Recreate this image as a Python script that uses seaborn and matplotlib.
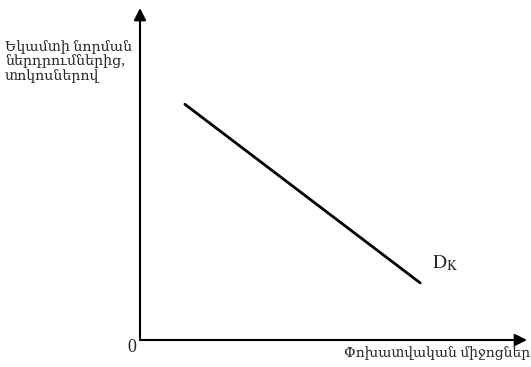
import pandas as pd
import seaborn as sns
import matplotlib.pyplot as plt

# demand curve for loanable funds (schematic)
funds = [1.16, 7.24]
rate = [7.1, 1.72]
curve_label = 'D'
y_title = 'Եկամտի նորման\nներդրումներից,\nտոկոսներով'
x_title = 'Փոխատվական միջոցներ'

df = pd.DataFrame({'funds': funds, 'rate': rate})

sns.set_style('white')
plt.rcParams['font.family'] = ['Liberation Serif', 'DejaVu Serif']
plt.rcParams['mathtext.fontset'] = 'stix'

fig = plt.figure(figsize=(5.31, 3.67), dpi=100)
ax = fig.add_axes([140 / 531, 27 / 367, 387 / 531, 332 / 367])
ax.set_xlim(0, 10)
ax.set_ylim(0, 10)

sns.lineplot(data=df, x='funds', y='rate', color='black', linewidth=2, ax=ax)

for s in ax.spines.values():
    s.set_visible(False)
ax.set_xticks([])
ax.set_yticks([])
ax.set_xlabel('')
ax.set_ylabel('')

# axes with arrow heads
ax.annotate('', xy=(1.0, 0), xytext=(0, 0), xycoords='axes fraction',
            arrowprops=dict(arrowstyle='-|>', color='black', lw=1.5,
                            mutation_scale=18, shrinkA=0, shrinkB=0))
ax.annotate('', xy=(0, 1.0), xytext=(0, 0), xycoords='axes fraction',
            arrowprops=dict(arrowstyle='-|>', color='black', lw=1.5,
                            mutation_scale=18, shrinkA=0, shrinkB=0))

ax.text(funds[1] + 0.3, rate[1] + 0.3, r'$\mathrm{D_K}$', fontsize=14,
        va='bottom', ha='left')
fig.text(132 / 531, 1 - 347 / 367, '0', fontsize=13, ha='center', va='center')
fig.text(5 / 531, 1 - 40 / 367, y_title, fontsize=10.2, ha='left', va='top',
         linespacing=1.05)
fig.text(530 / 531, 1 - 353 / 367, x_title, fontsize=10, ha='right', va='center')

fig.savefig('out.png', dpi=100)
